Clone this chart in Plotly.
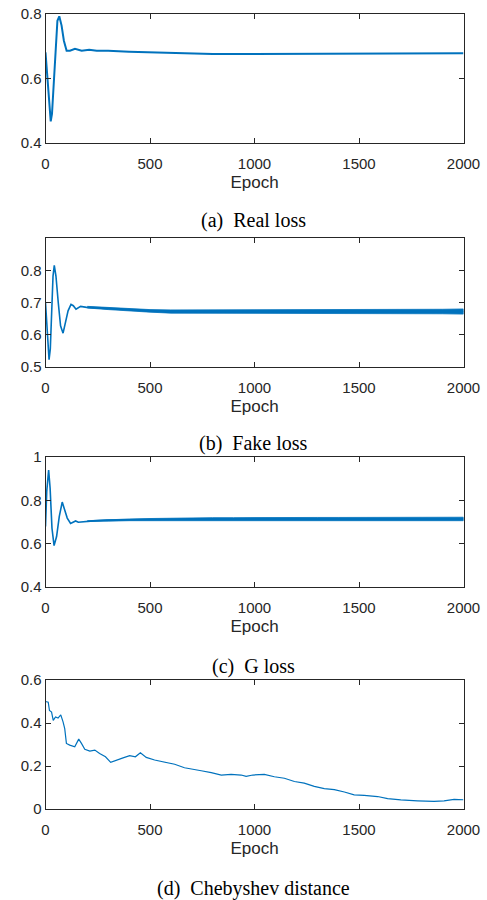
import plotly.graph_objects as go

# ---------------- data ----------------
epoch_real = [0, 12, 18, 25, 31, 41, 49, 57, 66, 77, 88, 101, 117, 141, 173, 209, 245,
              300, 400, 500, 600, 700, 800, 900, 1000, 1200, 1400, 1500, 1600, 1800, 2000]
real_loss = [0.681, 0.572, 0.500, 0.467, 0.490, 0.604, 0.727, 0.779, 0.793, 0.764, 0.717,
             0.686, 0.686, 0.692, 0.686, 0.689, 0.686,
             0.686, 0.683, 0.681, 0.679, 0.677, 0.676, 0.676, 0.676, 0.676, 0.677, 0.677,
             0.677, 0.678, 0.678]

epoch_fake = [0, 9, 17, 23, 30, 36, 42, 50, 61, 72, 84, 95, 108, 122, 133, 146, 168, 197,
              300, 400, 500, 600, 800, 1000, 1200, 1400, 1600, 1800, 2000]
fake_loss = [0.700, 0.597, 0.523, 0.556, 0.669, 0.782, 0.815, 0.782, 0.700, 0.628, 0.605,
             0.633, 0.674, 0.694, 0.690, 0.679, 0.688, 0.685,
             0.681, 0.677, 0.674, 0.672, 0.671, 0.671, 0.671, 0.671, 0.671, 0.672, 0.672]

epoch_g = [0, 6, 15, 22, 31, 41, 53, 66, 80, 93, 104, 120, 133, 144, 157, 181, 229, 292,
           400, 500, 600, 800, 1000, 1200, 1400, 1600, 1800, 2000]
g_loss = [0.679, 0.842, 0.940, 0.857, 0.671, 0.591, 0.633, 0.726, 0.792, 0.757, 0.718,
          0.693, 0.699, 0.705, 0.699, 0.702, 0.705, 0.709,
          0.711, 0.712, 0.713, 0.714, 0.714, 0.714, 0.714, 0.714, 0.714, 0.714]

# noisy-band envelopes (epochs 200..2000)
band_epoch = [200, 300, 400, 500, 600, 700, 800, 900, 1000, 1100, 1200, 1300, 1400, 1500,
              1600, 1700, 1800, 1900, 2000]
fake_upper = [0.688, 0.684, 0.681, 0.678, 0.677, 0.677, 0.677, 0.677, 0.677, 0.677, 0.677,
              0.677, 0.677, 0.677, 0.678, 0.678, 0.678, 0.679, 0.680]
fake_lower = [0.683, 0.678, 0.673, 0.670, 0.667, 0.666, 0.666, 0.665, 0.665, 0.666, 0.666,
              0.666, 0.666, 0.666, 0.666, 0.666, 0.665, 0.665, 0.664]
g_upper = [0.706, 0.711, 0.714, 0.716, 0.718, 0.719, 0.720, 0.720, 0.721, 0.721, 0.721,
           0.721, 0.721, 0.721, 0.721, 0.722, 0.722, 0.722, 0.722]
g_lower = [0.702, 0.704, 0.706, 0.707, 0.708, 0.708, 0.708, 0.708, 0.708, 0.708, 0.708,
           0.707, 0.707, 0.707, 0.707, 0.706, 0.706, 0.706, 0.706]

epoch_cheb = [0, 13, 19, 29, 37, 48, 60, 73, 84, 92, 100, 116, 140, 148, 159, 172, 188, 212,
              236, 259, 287, 312, 339, 371, 403, 430, 454, 482, 522, 570, 618, 665, 713,
              745, 793, 841, 888, 936, 960, 992, 1047, 1095, 1143, 1191, 1238, 1286, 1334,
              1382, 1430, 1477, 1525, 1589, 1637, 1700, 1780, 1859, 1907, 1955, 2000]
cheb_dist = [0.500, 0.497, 0.458, 0.451, 0.412, 0.428, 0.423, 0.438, 0.405, 0.374, 0.305,
             0.297, 0.289, 0.305, 0.325, 0.305, 0.278, 0.269, 0.274, 0.258, 0.243, 0.217,
             0.228, 0.238, 0.248, 0.243, 0.262, 0.240, 0.228, 0.217, 0.208, 0.192, 0.182,
             0.178, 0.169, 0.158, 0.161, 0.158, 0.152, 0.158, 0.161, 0.150, 0.143, 0.128,
             0.120, 0.105, 0.095, 0.090, 0.079, 0.066, 0.063, 0.058, 0.048, 0.042, 0.038,
             0.035, 0.038, 0.045, 0.043]

x_ticks = [0, 500, 1000, 1500, 2000]
x_ticktext = ["0", "500", "1000", "1500", "2000"]

captions = ["(a)  Real loss", "(b)  Fake loss", "(c)  G loss", "(d)  Chebyshev distance"]

panels = [
    dict(yrange=[0.4, 0.8], yticks=[0.4, 0.6, 0.8], ytext=["0.4", "0.6", "0.8"]),
    dict(yrange=[0.5, 0.9], yticks=[0.5, 0.6, 0.7, 0.8], ytext=["0.5", "0.6", "0.7", "0.8"]),
    dict(yrange=[0.4, 1.0], yticks=[0.4, 0.6, 0.8, 1.0], ytext=["0.4", "0.6", "0.8", "1"]),
    dict(yrange=[0.0, 0.6], yticks=[0.0, 0.2, 0.4, 0.6], ytext=["0", "0.2", "0.4", "0.6"]),
]

# ---------------- layout geometry (pixels) ----------------
W, H = 487, 900
frame_left, frame_right = 45.5, 463.5
frame_tb = [(14, 143), (238, 367), (457, 587), (680, 809)]
caption_y = [220, 443, 666, 888]

BLUE = "#0072BD"
AX = "#262626"

fig = go.Figure()

series = [(epoch_real, real_loss, 2.0), (epoch_fake, fake_loss, 1.6),
          (epoch_g, g_loss, 1.6), (epoch_cheb, cheb_dist, 1.2)]

for i, (xs, ys, w) in enumerate(series):
    ax = "" if i == 0 else str(i + 1)
    fig.add_trace(go.Scatter(x=xs, y=ys, mode="lines", line=dict(color=BLUE, width=w),
                             xaxis="x" + ax, yaxis="y" + ax, showlegend=False,
                             hoverinfo="skip"))

# bands for fake loss (panel b) and G loss (panel c)
for i, (up, lo) in [(1, (fake_upper, fake_lower)), (2, (g_upper, g_lower))]:
    ax = str(i + 1)
    fig.add_trace(go.Scatter(x=band_epoch + band_epoch[::-1], y=up + lo[::-1],
                             mode="lines", fill="toself", fillcolor=BLUE,
                             line=dict(color=BLUE, width=0.8),
                             xaxis="x" + ax, yaxis="y" + ax, showlegend=False,
                             hoverinfo="skip"))

layout = dict(width=W, height=H, margin=dict(l=0, r=0, t=0, b=0, pad=0), autosize=False,
              paper_bgcolor="white", plot_bgcolor="white", showlegend=False)

annotations = []
for i, p in enumerate(panels):
    top, bot = frame_tb[i]
    suffix = "" if i == 0 else str(i + 1)
    layout["xaxis" + suffix] = dict(
        domain=[frame_left / W, frame_right / W], range=[0, 2000], anchor="y" + suffix,
        automargin=False,
        tickvals=x_ticks, ticktext=x_ticktext, ticks="inside", ticklen=5, tickwidth=1,
        tickcolor=AX, showline=True, linecolor=AX, linewidth=1, mirror="ticks",
        showgrid=False, zeroline=False, ticklabelstandoff=7,
        tickfont=dict(family="Liberation Sans, Arial", size=15, color=AX),
        title=dict(text="Epoch", standoff=5,
                   font=dict(family="Liberation Sans, Arial", size=17, color=AX)))
    layout["yaxis" + suffix] = dict(
        domain=[1 - bot / H, 1 - top / H], range=p["yrange"], anchor="x" + suffix,
        automargin=False,
        tickvals=p["yticks"], ticktext=p["ytext"], ticks="inside", ticklen=5, tickwidth=1,
        tickcolor=AX, showline=True, linecolor=AX, linewidth=1, mirror="ticks",
        showgrid=False, zeroline=False,
        tickfont=dict(family="Liberation Sans, Arial", size=15, color=AX))
    annotations.append(dict(text=captions[i], x=253 / W, y=1 - caption_y[i] / H,
                            xref="paper", yref="paper", xanchor="center", yanchor="middle",
                            showarrow=False,
                            font=dict(family="Liberation Serif, Times New Roman", size=20,
                                      color="black")))

layout["annotations"] = annotations
fig.update_layout(**layout)

fig.write_html("out.html")
